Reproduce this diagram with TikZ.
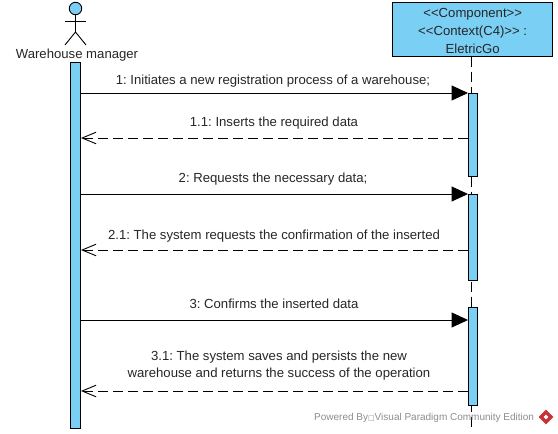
\documentclass[tikz,border=0pt]{standalone}
\usepackage{fontspec}
\setmainfont{Liberation Sans}
\newfontfamily\symfont{DejaVu Sans}
\usetikzlibrary{arrows.meta,positioning,calc,shapes.geometric}
\definecolor{barblue}{RGB}{122,207,245}
\definecolor{wmgray}{RGB}{140,140,140}
\definecolor{logored}{RGB}{200,50,50}
\frenchspacing

\begin{document}
\begin{tikzpicture}[
  x=1pt, y=-1pt,
  every node/.style={align=center},
  txt/.style={font=\fontsize{13.15}{17.5}\selectfont, text=black!85, inner sep=0pt},
  bar/.style={draw=black, fill=barblue, line width=0.9pt, inner sep=0pt, anchor=north},
  comp/.style={draw=black, fill=barblue, line width=1pt, inner sep=0pt,
               minimum width=159.5pt, minimum height=53.5pt},
  life/.style={draw=black, line width=0.9pt, dash pattern=on 10pt off 5pt},
  call/.style={-{Triangle[length=16.5pt,width=15pt]}, draw=black, line width=0.9pt},
  ret/.style={-{Straight Barb[length=14pt,width=14pt,angle'=45]}, draw=black, line width=0.9pt,
              dash pattern=on 10pt off 5pt},
  actor/.style={draw=black, line width=0.9pt},
]
\useasboundingbox (0,0) rectangle (558,434);

% ---------- the actor ----------
\node[circle, draw=black, fill=barblue, line width=0.9pt, minimum size=12.5pt, inner sep=0pt]
  (head) at (75.5,8.5) {};
\coordinate (hip) at (75.5,32);
\coordinate (armL) at (65,21);
\coordinate (armR) at (86,21);
\coordinate (footL) at (65,45);
\coordinate (footR) at (86,45);
\draw[actor] (head.south) -- (hip);
\draw[actor] (armL) -- (armR);
\draw[actor] (footL) -- (hip) -- (footR);
\node[txt] (mgr) at (77,55.5) {Warehouse manager};

% ---------- the component ----------
\node[comp] (go) at (472.7,29.3) {};
\node[txt, font=\fontsize{13.15}{18}\selectfont] (gotitle) at (472.7,31)
  {{<}{<}Component{>}{>}\\{<}{<}Context(C4){>}{>} :\\EletricGo};
\coordinate (goend) at (471.5,430);
\draw[life] (go.south -| goend) -- (goend);

% ---------- the activations ----------
\node[bar, minimum width=10pt, minimum height=366pt] (mgrbar) at (75.5,62) {};
\foreach \i/\top/\len in {1/93/83, 2/194/86, 3/307/98} {
  \node[bar, minimum width=9pt, minimum height=\len pt] (gobar\i) at (473,\top) {};
}

% ---------- the messages ----------
\foreach \i/\gy in {1/93, 2/194, 3/320} {
  \coordinate (c\i) at (0,\gy);
  \draw[call] (mgrbar.east |- c\i) -- (gobar\i.west |- c\i);
}
\foreach \i/\gy in {1/138, 2/250, 3/391} {
  \coordinate (r\i) at (0,\gy);
  \draw[ret] (gobar\i.west |- r\i) -- (mgrbar.east |- r\i);
}
\node[txt] (m1) at (273,81) {1: Initiates a new registration process of a warehouse;};
\node[txt] (m11) at (274,123.5) {1.1: Inserts the required data};
\node[txt] (m2) at (273,179.5) {2: Requests the necessary data;};
\node[txt] (m21) at (274,236) {2.1: The system requests the confirmation of the inserted};
\node[txt] (m3) at (274,304) {3: Confirms the inserted data};
\node[txt] (m31) at (279,365.5) {3.1: The system saves and persists the new\\warehouse and returns the success of the operation};

% ---------- the watermark ----------
\node[font=\fontsize{10}{12}\selectfont, text=wmgray, inner sep=0pt, anchor=west] (wm) at (314,418)
  {Powered By{\symfont\fontsize{7}{12}\selectfont □}Visual Paradigm Community Edition};
\node[diamond, fill=logored, minimum size=15pt, inner sep=0pt] (logo) at (546,417) {};
\node[diamond, fill=white, minimum size=5pt, inner sep=0pt] (logoin) at (logo) {};
\end{tikzpicture}
\end{document}
